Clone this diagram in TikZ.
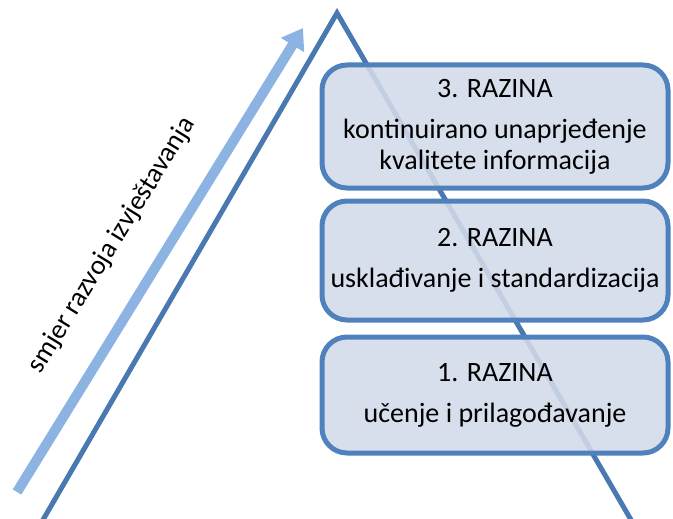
\documentclass[tikz,border=0pt]{standalone}
\usepackage{fontspec}
\setmainfont{Carlito}
\usetikzlibrary{arrows.meta}
\definecolor{trianglecol}{HTML}{4A78B0}
\definecolor{boxline}{HTML}{4F81BD}
\definecolor{boxfill}{HTML}{D3DBE9}
\definecolor{arrowcol}{HTML}{8DB3E2}
\tikzset{
  razina/.style={draw=boxline,line width=5pt,fill=boxfill,fill opacity=0.88,text opacity=1,
    rounded corners=25pt,minimum width=346pt,align=center,inner sep=0pt,
    font=\fontsize{28}{31}\selectfont},
}
\begin{document}
\begin{tikzpicture}[x=1pt,y=-1pt]
  \clip (0,0) rectangle (673,519);
  \coordinate (apex) at (337,13);
  \coordinate (baseL) at (40,525);
  \coordinate (baseR) at (634,525);
  \coordinate (tail) at (17,492);
  \coordinate (tip) at (303,28);
  \draw[trianglecol,line width=5pt,line join=miter] (baseL) -- (apex) -- (baseR);
  \draw[arrowcol,line width=10pt,-{Triangle[width=26pt,length=20pt]}] (tail) -- (tip);
  \node[rotate=58.3,anchor=base,font=\fontsize{27.5}{31}\selectfont] (smjer) at (118,249) {smjer razvoja izvještavanja};
  \node[razina,minimum height=123pt] (r3) at (495,126.5) {3. RAZINA\\[10pt]kontinuirano unaprjeđenje\\kvalitete informacija};
  \node[razina,minimum height=119pt] (r2) at (495,260.5) {2. RAZINA\\[10pt]usklađivanje i standardizacija};
  \node[razina,minimum height=116pt] (r1) at (495,395) {1. RAZINA\\[10pt]učenje i prilagođavanje};
\end{tikzpicture}
\end{document}
